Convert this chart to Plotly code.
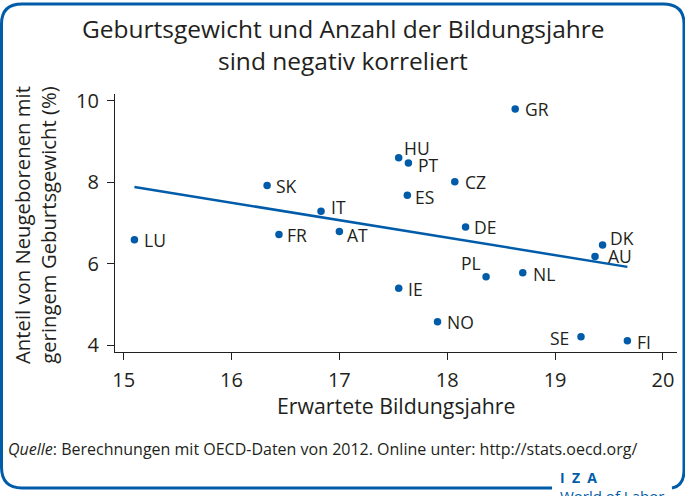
import numpy as np
import plotly.graph_objects as go

# ---- data ----
countries = ["LU", "SK", "IT", "FR", "AT", "HU", "IE", "GR", "PT", "CZ",
             "ES", "DE", "DK", "AU", "PL", "NL", "NO", "SE", "FI"]
years = [15.10, 16.33, 16.83, 16.44, 17.00, 17.55, 17.55, 18.63, 17.64, 18.07,
         17.63, 18.17, 19.44, 19.37, 18.36, 18.70, 17.91, 19.24, 19.67]
lowbw = [6.59, 7.92, 7.29, 6.72, 6.79, 8.60, 5.40, 9.80, 8.47, 8.01,
         7.68, 6.90, 6.46, 6.18, 5.68, 5.78, 4.58, 4.21, 4.11]
x_ticks = [15, 16, 17, 18, 19, 20]
y_ticks = [4, 6, 8, 10]

title_lines = ["Geburtsgewicht und Anzahl der Bildungsjahre", "sind negativ korreliert"]
x_title = "Erwartete Bildungsjahre"
y_title = "Anteil von Neugeborenen mit<br>geringem Geburtsgewicht (%)"
source = "<i>Quelle</i>: Berechnungen mit OECD-Daten von 2012. Online unter: http://stats.oecd.org/"

# ---- style ----
W, H = 685, 496
ML, MR, MT, MB = 115, 8, 94, 144
PW, PH = W - ML - MR, H - MT - MB
BLUE = "#005CA9"
TXT = "#231F20"
FONT = "Open Sans"

# label placement (anchor, xshift, yshift in px)
label_pos = {
    "LU": ("left", 8, 0), "SK": ("left", 7, 0), "IT": ("left", 8, 4),
    "FR": ("left", 6, -1), "AT": ("left", 6, -3), "HU": ("left", 3, 10),
    "IE": ("left", 7, -1), "GR": ("left", 8, 0), "PT": ("left", 8, -2),
    "CZ": ("left", 8, 0), "ES": ("left", 6, -2), "DE": ("left", 6, 0),
    "DK": ("left", 5, 7), "AU": ("left", 11, 0), "PL": ("right", -3, 14),
    "NL": ("left", 8, -1), "NO": ("left", 7, 0), "SE": ("right", -10, -1),
    "FI": ("left", 8, -1),
}


def px(xp):
    return (xp - ML) / PW


def py(yp):
    return 1 - (yp - MT) / PH


# regression line
coef = np.polyfit(years, lowbw, 1)
fx = np.array([min(years), max(years)])
fy = np.polyval(coef, fx)

fig = go.Figure()
fig.add_trace(go.Scatter(x=fx, y=fy, mode="lines",
                         line=dict(color=BLUE, width=2.5), hoverinfo="skip"))
fig.add_trace(go.Scatter(x=years, y=lowbw, mode="markers",
                         marker=dict(color=BLUE, size=7.5), text=countries))

ann = []
for c, xv, yv in zip(countries, years, lowbw):
    a, xs, ys = label_pos[c]
    ann.append(dict(x=xv, y=yv, xref="x", yref="y", text=c, showarrow=False,
                    xanchor=a, yanchor="middle", xshift=xs, yshift=ys,
                    font=dict(family=FONT, size=17.5, color=TXT)))

# title
ann.append(dict(x=px(343), y=py(28), xref="paper", yref="paper", text=title_lines[0],
                showarrow=False, xanchor="center", yanchor="middle",
                font=dict(family=FONT, size=24.5, color=TXT)))
ann.append(dict(x=px(343), y=py(60), xref="paper", yref="paper", text=title_lines[1],
                showarrow=False, xanchor="center", yanchor="middle",
                font=dict(family=FONT, size=24.5, color=TXT)))
# axis titles
ann.append(dict(x=px(396), y=py(405), xref="paper", yref="paper", text=x_title,
                showarrow=False, xanchor="center", yanchor="middle",
                font=dict(family=FONT, size=21.3, color=TXT)))
ann.append(dict(x=px(35), y=py(225), xref="paper", yref="paper", text=y_title,
                showarrow=False, xanchor="center", yanchor="middle", textangle=-90,
                font=dict(family=FONT, size=20.3, color=TXT)))
# source
ann.append(dict(x=px(6), y=py(449), xref="paper", yref="paper", text=source,
                showarrow=False, xanchor="left", yanchor="middle",
                font=dict(family=FONT, size=16, color=TXT)))
# logo
ann.append(dict(x=px(558), y=py(477), xref="paper", yref="paper", text="<b>I  Z  A</b>",
                showarrow=False, xanchor="left", yanchor="middle",
                font=dict(family=FONT, size=14, color=BLUE)))
ann.append(dict(x=px(558), y=py(484), xref="paper", yref="paper", text="World of Labor",
                showarrow=False, xanchor="left", yanchor="top",
                font=dict(family=FONT, size=15, color=BLUE)))

# frame
def P(xp, yp):
    return f"{px(xp):.5f},{py(yp):.5f}"

frame = ("M " + P(552, 488) + " L " + P(22, 488) + " Q " + P(1.5, 488) + " " + P(1.5, 467)
         + " L " + P(1.5, 24) + " Q " + P(1.5, 4) + " " + P(22, 4)
         + " L " + P(663, 4) + " Q " + P(684, 4) + " " + P(684, 24)
         + " L " + P(684, 470) + " Q " + P(684, 486) + " " + P(672, 488))
shapes = [dict(type="path", path=frame, xref="paper", yref="paper",
               line=dict(color=BLUE, width=3), layer="above")]

fig.update_layout(
    width=W, height=H, margin=dict(l=ML, r=MR, t=MT, b=MB),
    paper_bgcolor="white", plot_bgcolor="white", showlegend=False,
    annotations=ann, shapes=shapes,
    font=dict(family=FONT, color=TXT),
    xaxis=dict(range=[14.92, 20.13], tickvals=x_ticks, showgrid=False, zeroline=False,
               showline=True, linecolor=TXT, linewidth=1.2, ticks="outside",
               ticklen=7, tickcolor=TXT, ticklabelstandoff=3,
               tickfont=dict(family=FONT, size=20, color=TXT)),
    yaxis=dict(range=[3.835, 10.165], tickvals=y_ticks, showgrid=False, zeroline=False,
               showline=True, linecolor=TXT, linewidth=1.2, ticks="outside",
               ticklen=7, tickcolor=TXT, ticklabelstandoff=4,
               tickfont=dict(family=FONT, size=20, color=TXT)),
)
fig.write_html("out.html", config={"displayModeBar": False},
               post_script="document.body.style.margin='0';document.body.style.overflow='hidden';")
